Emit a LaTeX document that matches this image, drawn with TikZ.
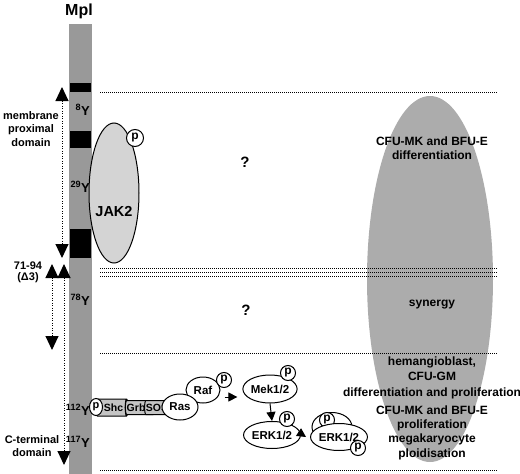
\documentclass[tikz,border=0pt]{standalone}
\usepackage{fontspec}
\setmainfont{Liberation Sans}
\usetikzlibrary{arrows.meta,shapes.geometric}
\definecolor{bargray}{RGB}{153,153,153}
\definecolor{ellgray}{RGB}{172,172,172}
\definecolor{jakgray}{RGB}{212,212,212}
\definecolor{adgray}{RGB}{196,196,196}
\begin{document}
\begin{tikzpicture}[x=1pt,y=-1pt,
  lbl/.style={font=\bfseries\fontsize{11}{13.5}\selectfont,align=center,inner sep=0pt},
  rtxt/.style={font=\bfseries\fontsize{12}{14.5}\selectfont,align=center,inner sep=0pt},
  tyr/.style={font=\bfseries\fontsize{13}{14}\selectfont,anchor=base east,inner sep=0pt},
  qm/.style={font=\bfseries\fontsize{15}{16}\selectfont,inner sep=0pt},
  hline/.style={line width=0.9pt,dash pattern=on 0.9pt off 1.1pt},
  darr/.style={line width=1pt,dash pattern=on 1pt off 1.5pt,{Triangle[width=13pt,length=14pt]}-{Triangle[width=13pt,length=14pt]}},
  prot/.style={ellipse,draw,line width=1pt,fill=white,inner sep=0pt,font=\bfseries\fontsize{11.5}{12}\selectfont},
  pc/.style={circle,draw,line width=1pt,fill=white,inner sep=0pt,minimum size=15pt,font=\bfseries\fontsize{12}{12}\selectfont},
  cyl/.style={cylinder,draw,line width=1pt,fill=adgray,inner sep=0pt,shape aspect=0.35,font=\bfseries\fontsize{10.5}{11}\selectfont},
  arr/.style={-{Triangle[width=9pt,length=9pt]},line width=1pt},
]
\useasboundingbox (0,0) rectangle (520,474);

% receptor bar
\fill[bargray] (69,24) rectangle (92,474);
\fill[black] (70,83) rectangle (91,92);
\fill[black] (70,131) rectangle (91,148);
\fill[black] (70,229) rectangle (91,258);
\node[font=\bfseries\fontsize{16}{18}\selectfont] (mpl) at (79,11) {Mpl};

% big grey zone
\fill[ellgray] (430,279) ellipse [x radius=63, y radius=183];

% dotted separators
\draw[hline] (100,92) -- (497,92);
\draw[hline] (100,268) -- (497,268);
\draw[hline] (100,272) -- (497,272);
\draw[hline] (100,276) -- (497,276);
\draw[hline] (100,353) -- (497,353);
\draw[hline] (100,470) -- (497,470);

% JAK2
\node[ellipse,draw,fill=jakgray,line width=1pt,inner sep=0pt,minimum width=50pt,minimum height=140pt] (jak2) at (114,193) {};
\node[font=\bfseries\fontsize{14.5}{16}\selectfont] (jak2t) at (114,212) {JAK2};
\node[pc,minimum size=17pt] (jakp) at (135,138) {p};

% tyrosines
\node[tyr] (y8) at (90,115) {\textsuperscript{8}Y};
\node[tyr] (y29) at (90,192) {\textsuperscript{29}Y};
\node[tyr] (y78) at (90,305) {\textsuperscript{78}Y};
\node[tyr] (y112) at (90,415) {\textsuperscript{112}Y};
\node[tyr] (y117) at (90,447) {\textsuperscript{117}Y};

% left domain arrows
\coordinate (mt) at (62,87);
\coordinate (mb) at (62,258);
\draw[darr] (mt) -- (mb);
\coordinate (dt) at (52,264);
\coordinate (db) at (52,350);
\draw[darr] (dt) -- (db);
\coordinate (ct) at (64,264);
\coordinate (cb) at (64,465);
\draw[darr] (ct) -- (cb);

\node[lbl] (mem) at (31,129) {membrane\\proximal\\domain};
\node[lbl,font=\bfseries\fontsize{11}{11.5}\selectfont] (d3) at (28,272.5) {71-94\\(Δ3)};
\node[lbl] (cterm) at (32,446) {C-terminal\\domain};

% question marks
\node[qm] (q1) at (245,162) {?};
\node[qm] (q2) at (246,310) {?};

% Shc / Grb2 / SOS / Ras / Raf
\node[cyl,minimum height=32pt,minimum width=17pt] (shc) at (111,407.5) {\hspace*{5pt}Shc};
\node[cyl,minimum height=24pt,minimum width=14pt] (grb2) at (139,407.5) {Grb2};
\node[cyl,minimum height=15pt,minimum width=14pt] (sos) at (157,407.5) {SOS};
\node[prot,minimum width=13pt,minimum height=17pt,font=\bfseries\fontsize{11}{11}\selectfont] (shcp) at (96,407) {p};
\node[prot,minimum width=34pt,minimum height=26pt] (raf) at (203,390) {Raf};
\node[pc] (rafp) at (224,380) {p};
\node[prot,minimum width=36pt,minimum height=26pt] (ras) at (180,407) {Ras};

% MAP kinase cascade
\node[prot,minimum width=40pt,minimum height=28pt] (mek) at (270,389) {Mek1/2};
\node[pc] (mekp) at (288,373) {p};
\node[prot,minimum width=42pt,minimum height=27pt] (erk) at (272,435) {ERK1/2};
\node[pc] (erkp) at (287,419) {p};
\node[prot,minimum width=40pt,minimum height=29pt] (erkb) at (332,427) {};
\node[pc] (erkbp) at (327,420) {p};
\node[prot,minimum width=42pt,minimum height=27pt] (erkf) at (339,437) {ERK1/2};
\node[pc] (erkfp) at (358,448) {p};

\draw[arr] ([yshift=-7pt,xshift=4pt]raf.east) -- ([yshift=-8pt,xshift=-5pt]mek.west);
\draw[arr] (mek.south) -- (erk.north);
\draw[arr] ([xshift=2pt]erk.east) -- ([xshift=-4pt]erkf.west);

% functions
\node[rtxt] (f1) at (432,148) {CFU-MK and BFU-E\\differentiation};
\node[rtxt] (f2) at (432,305) {synergy};
\node[rtxt,font=\bfseries\fontsize{12}{15.5}\selectfont] (f3) at (432,377.5) {hemangioblast,\\CFU-GM\\differentiation and proliferation};
\node[rtxt,font=\bfseries\fontsize{12}{14.3}\selectfont] (f4) at (432,432.5) {CFU-MK and BFU-E\\proliferation\\megakaryocyte\\ploidisation};
\end{tikzpicture}
\end{document}
